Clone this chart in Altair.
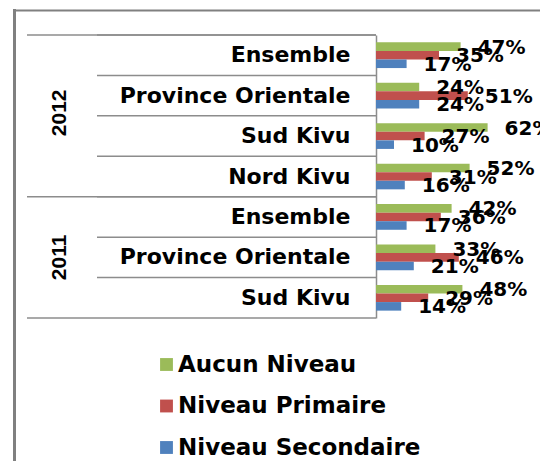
import altair as alt
import pandas as pd

years = ["2012", "2012", "2012", "2012", "2011", "2011", "2011"]
regions = ["Ensemble", "Province Orientale", "Sud Kivu", "Nord Kivu",
           "Ensemble", "Province Orientale", "Sud Kivu"]
series = ["Aucun Niveau", "Niveau Primaire", "Niveau Secondaire"]
aucun = [47, 24, 62, 52, 42, 33, 48]
primaire = [35, 51, 27, 31, 36, 46, 29]
secondaire = [17, 24, 10, 16, 17, 21, 14]
colors = ["#9BBB59", "#C0504D", "#4F81BD"]
year_labels = ["2012", "2011"]

rows = [f"{y}|{r}" for y, r in zip(years, regions)]
records = []
for key, a, p, s in zip(rows, aucun, primaire, secondaire):
    for name, v in zip(series, (a, p, s)):
        records.append({"row": key, "serie": name, "value": v, "label": f"{v}%"})
df = pd.DataFrame(records)

GRAY = "#8c8c8c"
FONT = "DejaVu Sans"

yscale = alt.Scale(domain=rows, paddingInner=0, paddingOuter=0)
y_axis = alt.Axis(title=None, labelExpr="split(datum.label,'|')[1]", labelFont=FONT,
                  labelFontWeight="bold", labelFontSize=22, labelColor="#000000",
                  labelPadding=26, ticks=False, domainColor=GRAY, domainWidth=1.5,
                  labelLimit=0, grid=False)
xscale = alt.Scale(domain=[0, 91.1], nice=False, zero=True)
yoff = alt.YOffset("serie:N", sort=series, scale=alt.Scale(paddingOuter=0.86, paddingInner=0))

bars = alt.Chart(df).mark_bar().encode(
    x=alt.X("value:Q", scale=xscale, axis=None),
    y=alt.Y("row:N", scale=yscale, axis=y_axis),
    yOffset=yoff,
    color=alt.Color("serie:N", scale=alt.Scale(domain=series, range=colors),
                    legend=alt.Legend(title=None, orient="none", legendX=-221, legendY=318,
                                      symbolType="square", symbolSize=165, symbolStrokeWidth=0,
                                      labelFont=FONT, labelFontWeight="bold", labelFontSize=23,
                                      labelColor="#000000", rowPadding=17.5, labelOffset=0,
                                      direction="vertical", padding=0, labelLimit=0)),
)

texts = alt.Chart(df).mark_text(align="left", baseline="middle", dx=17, dy=1, font=FONT,
                                fontWeight="bold", fontSize=20, color="#000000").encode(
    x=alt.X("value:Q", scale=xscale, axis=None),
    y=alt.Y("row:N", scale=yscale, axis=y_axis),
    yOffset=yoff,
    text="label:N",
)

rows_df = pd.DataFrame({"row": rows})
inner_rules = alt.Chart(rows_df).mark_rule(color=GRAY, strokeWidth=1.5).encode(
    y=alt.Y("row:N", scale=yscale, axis=y_axis, bandPosition=0),
    x=alt.value(-279), x2=alt.value(0),
)
group_top = pd.DataFrame({"row": [rows[0], rows[4]]})
group_rules = alt.Chart(group_top).mark_rule(color=GRAY, strokeWidth=1.5).encode(
    y=alt.Y("row:N", scale=yscale, axis=y_axis, bandPosition=0),
    x=alt.value(-349), x2=alt.value(0),
)
bottom_rule = alt.Chart(pd.DataFrame({"row": [rows[-1]]})).mark_rule(color=GRAY, strokeWidth=1.5).encode(
    y=alt.Y("row:N", scale=yscale, axis=y_axis, bandPosition=1),
    x=alt.value(-349), x2=alt.value(0),
)

year12 = alt.Chart(pd.DataFrame({"row": [rows[1]], "year": [year_labels[0]]})).mark_text(
    angle=270, align="center", baseline="middle", font="Liberation Sans", fontWeight="bold",
    fontSize=21, color="#000000", dx=3).encode(
    y=alt.Y("row:N", scale=yscale, axis=y_axis, bandPosition=1),
    x=alt.value(-316), text="year:N")
year11 = alt.Chart(pd.DataFrame({"row": [rows[5]], "year": [year_labels[1]]})).mark_text(
    angle=270, align="center", baseline="middle", font="Liberation Sans", fontWeight="bold",
    fontSize=21, color="#000000").encode(
    y=alt.Y("row:N", scale=yscale, axis=y_axis, bandPosition=0.5),
    x=alt.value(-316), text="year:N")

one = alt.Data(values=[{"k": 1}])
frame_left = alt.Chart(one).mark_rule(color="#808080", strokeWidth=3).encode(
    x=alt.value(-361.5), y=alt.value(-26), y2=alt.value(440))
frame_top = alt.Chart(one).mark_rule(color="#808080", strokeWidth=2).encode(
    y=alt.value(-24.5), x=alt.value(-363), x2=alt.value(200))

chart = alt.layer(frame_left, frame_top, inner_rules, group_rules, bottom_rule,
                  year12, year11, bars, texts).properties(
    width=164, height=283,
    autosize=alt.AutoSizeParams(type="none"),
    padding={"left": 368, "top": 27, "right": 0, "bottom": 143},
).configure_view(stroke=None)

chart.save("out.html", embed_options={"renderer": "svg", "actions": False})
